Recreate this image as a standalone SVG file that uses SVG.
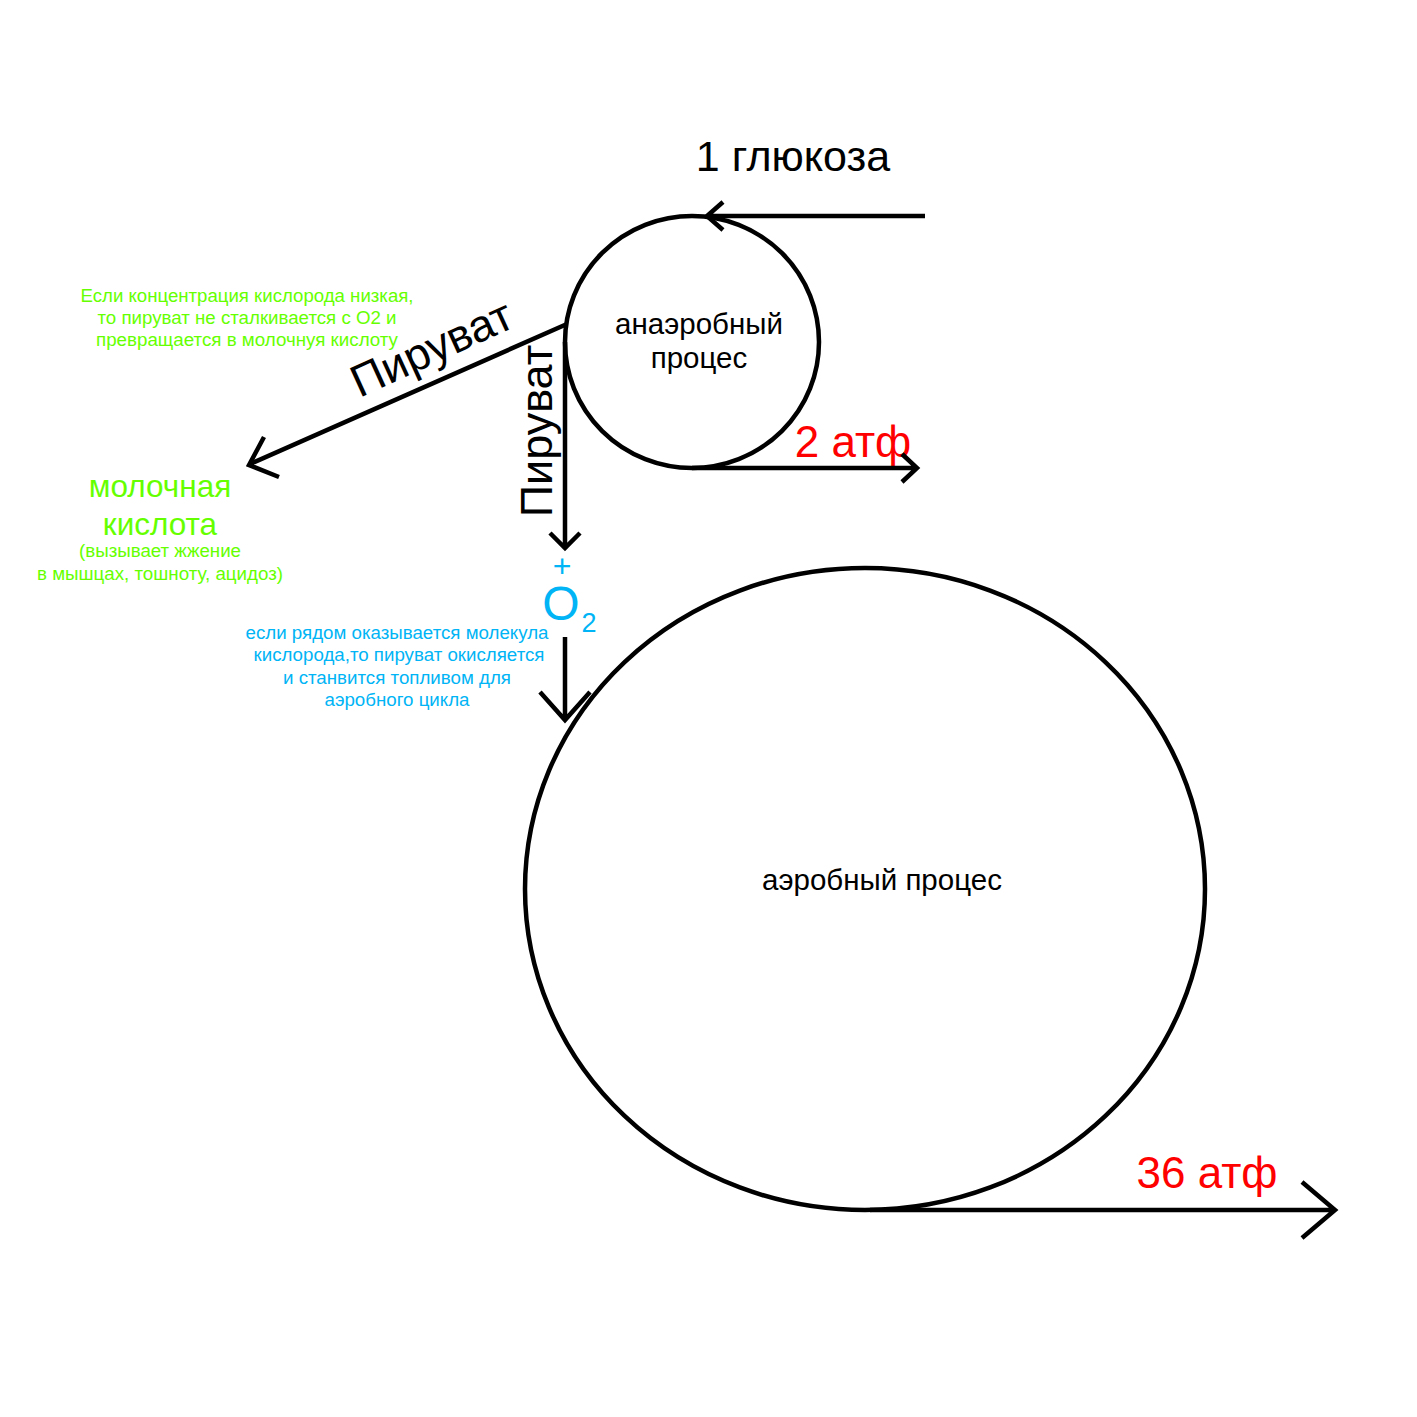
<svg xmlns="http://www.w3.org/2000/svg" width="1417" height="1417" viewBox="0 0 1417 1417">
<style>
.s{fill:none;stroke:#000;stroke-width:4.5}
text{font-family:"Liberation Sans",Arial,sans-serif;text-anchor:middle}
.k{fill:#000}
.r{fill:#ff0000}
.g{fill:#66ff00}
.b{fill:#00b4f5}
.n{font-size:17.5px}
</style>
<rect width="1417" height="1417" fill="#fff"/>
<g id="node-anaerobic">
<ellipse class="s" cx="692" cy="342" rx="127" ry="126"/>
<text class="k" x="699" y="334" font-size="29.5">анаэробный</text>
<text class="k" x="699" y="368" font-size="29.5">процес</text>
</g>
<g id="node-aerobic">
<ellipse class="s" cx="865" cy="889" rx="340" ry="321"/>
<text class="k" x="882" y="890" font-size="29.5">аэробный процес</text>
</g>
<g id="node-glucose">
<text class="k" x="793" y="171" font-size="43">1 глюкоза</text>
</g>
<g id="node-atp2">
<text class="r" x="853" y="457" font-size="44">2 атф</text>
</g>
<g id="node-atp36">
<text class="r" x="1207" y="1188" font-size="44">36 атф</text>
</g>
<g id="node-lactic">
<text class="g" x="160" y="497" font-size="31.5">молочная</text>
<text class="g" x="160" y="535" font-size="31.5">кислота</text>
<text class="g n" x="160" y="557" textLength="162" lengthAdjust="spacingAndGlyphs">(вызывает жжение</text>
<text class="g n" x="160" y="580" textLength="246" lengthAdjust="spacingAndGlyphs">в мышцах, тошноту, ацидоз)</text>
</g>
<g id="note-low-oxygen">
<text class="g n" x="247" y="302" textLength="333" lengthAdjust="spacingAndGlyphs">Если концентрация кислорода низкая,</text>
<text class="g n" x="247" y="324" textLength="299" lengthAdjust="spacingAndGlyphs">то пируват не сталкивается с O2 и</text>
<text class="g n" x="247" y="346" textLength="302" lengthAdjust="spacingAndGlyphs">превращается в молочнуя кислоту</text>
</g>
<g id="node-o2">
<text class="b" x="562" y="577" font-size="32">+</text>
<text class="b" x="561" y="620" font-size="48">O</text>
<text class="b" x="589" y="632" font-size="27">2</text>
</g>
<g id="note-oxygen">
<text class="b n" x="397" y="639" textLength="303" lengthAdjust="spacingAndGlyphs">если рядом оказывается молекула</text>
<text class="b n" x="399" y="661" textLength="291" lengthAdjust="spacingAndGlyphs">кислорода,то пируват окисляется</text>
<text class="b n" x="397" y="684" textLength="228" lengthAdjust="spacingAndGlyphs">и станвится топливом для</text>
<text class="b n" x="397" y="706" textLength="145" lengthAdjust="spacingAndGlyphs">аэробного цикла</text>
</g>
<g id="connectors">
<path class="s" d="M925 216H707M723 202L707 216L723 230"/>
<path class="s" d="M692 468H917M902 454L917 468L902 482"/>
<path class="s" d="M567 324L250 464M264 437L249 465L279 477"/>
<text class="k" x="438" y="362" font-size="45" transform="rotate(-24.6 438 362)">Пируват</text>
<path class="s" d="M565 342V548M550 533L565 548L580 533"/>
<text class="k" x="0" y="0" font-size="45" transform="translate(552 431) rotate(-90)">Пируват</text>
<path class="s" d="M565 637V720M540 692L565 720L590 692"/>
<path class="s" d="M870 1210H1335M1302 1182L1335 1210L1302 1238"/>
</g>
</svg>
